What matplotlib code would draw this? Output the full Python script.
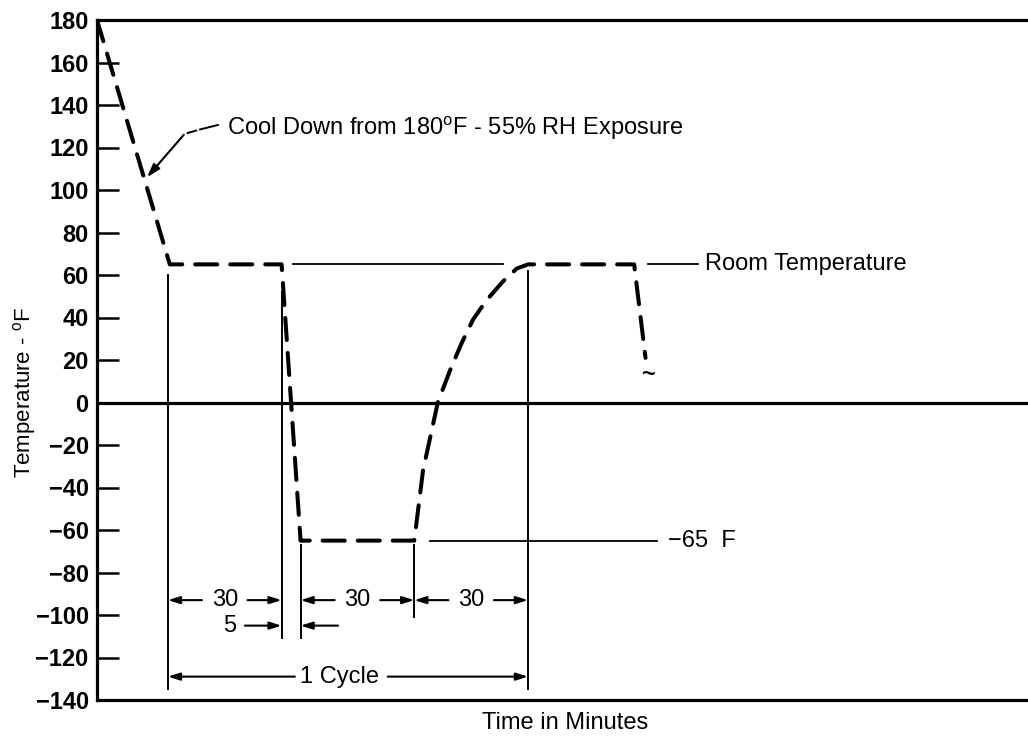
import matplotlib.pyplot as plt

plt.rcParams['font.family'] = ['Liberation Sans', 'DejaVu Sans']

# Temperature profile (minutes from start of cycle, deg F)
profile_t = [-18.7, 0.5, 30, 35, 65, 67.3, 71.2, 74.4, 77.5, 80.5, 84, 88.4, 92, 95, 123, 126]
profile_temp = [180, 65, 65, -65, -65, -32, 0, 15, 28, 39, 48, 57, 63, 65, 65, 21]

room_temp = 65
cold_temp = -65

# Cycle boundaries (minutes) and the extent of each marker line (deg F)
marker_t = [0, 30, 35, 65, 95]
marker_top = [60, 52, -67, -67, 62]
marker_bottom = [-135, -111, -111, -101, -135]

# Dimension rows: (start, end, label)
step_spans = [(0, 30, '30'), (35, 65, '30'), (65, 95, '30')]
cycle_span = (0, 95, '1 Cycle')

y_ticks = list(range(-140, 181, 20))

fig = plt.figure(figsize=(10.28, 7.37), dpi=100)
ax = fig.add_axes([97 / 1028, 37 / 737, (1028 - 97) / 1028, (700 - 20) / 737])
ax.set_xlim(-18.7, 226.9)
ax.set_ylim(-140, 180)

for side in ['left', 'top', 'bottom']:
    ax.spines[side].set_linewidth(2.3)
ax.spines['right'].set_visible(False)

ax.set_xticks([])
ax.set_yticks(y_ticks)
ax.tick_params(axis='y', direction='in', length=16, width=1.8, pad=6,
               labelsize=17)
for lbl in ax.get_yticklabels():
    lbl.set_fontweight('bold')

ax.axhline(0, color='k', lw=2.3)

# thin reference lines for room temperature and the cold soak
ax.plot([33, 88.4], [room_temp, room_temp], color='k', lw=1.3)
ax.plot([126.6, 139.8], [room_temp, room_temp], color='k', lw=1.3)
ax.plot([69.1, 129], [cold_temp, cold_temp], color='k', lw=1.3)

for t, top, bot in zip(marker_t, marker_top, marker_bottom):
    ax.plot([t, t], [bot, top], color='k', lw=1.4)

# the temperature profile itself
ax.plot(profile_t, profile_temp, color='k', lw=2.9,
        linestyle=(0, (5.5, 3.2)), dash_capstyle='round')
ax.text(126.6, 13, '~', fontsize=17, fontweight='bold', ha='center', va='center')

arrow = dict(arrowstyle='-|>,head_length=0.7,head_width=0.22', lw=1.5,
             color='k', shrinkA=0, shrinkB=0)


def dim_piece(x_from, x_to, y):
    ax.annotate('', xy=(x_to, y), xytext=(x_from, y), arrowprops=arrow)


text_kw = dict(fontsize=17)

row_y = -93
for a, b, lab in step_spans:
    mid = (a + b) / 2
    ax.text(mid, row_y, lab, ha='center', va='center', **text_kw)
    dim_piece(mid - 6, a, row_y)
    dim_piece(mid + 6, b, row_y)

row2_y = -105
ax.text(16.4, row2_y, '5', ha='center', va='center', **text_kw)
dim_piece(20.3, 30, row2_y)
dim_piece(44.9, 35, row2_y)

cyc_y = -129
a, b, lab = cycle_span
ax.text(45.4, cyc_y, lab, ha='center', va='center', **text_kw)
dim_piece(33.5, a, cyc_y)
dim_piece(58, b, cyc_y)

# labels on the curve
ax.text(141.7, room_temp, 'Room Temperature', ha='left', va='center', **text_kw)
ax.text(132, cold_temp, '\u221265  F', ha='left', va='center', **text_kw)

ax.text(15.6, 129, r'Cool Down from 180$^{\mathregular{o}}$F - 55% RH Exposure',
        ha='left', va='center', **text_kw)
ax.plot([13.2, 8.5], [130.6, 128.5], color='k', lw=1.4)
ax.plot([7.5, 5.2], [128, 126.8], color='k', lw=1.4)
ax.annotate('', xy=(-5.5, 106), xytext=(4.2, 126),
            arrowprops=dict(arrowstyle='-|>,head_length=0.8,head_width=0.25',
                            lw=1.5, color='k', shrinkA=0, shrinkB=0))

fig.text(25 / 1028, 1 - 392 / 737, r'Temperature - $^{\mathregular{o}}$F',
         rotation=90, fontsize=16, ha='center', va='center')
fig.text(565 / 1028, 1 - 723 / 737, 'Time in Minutes', fontsize=17,
         ha='center', va='center')

fig.savefig('out.png', dpi=100)
